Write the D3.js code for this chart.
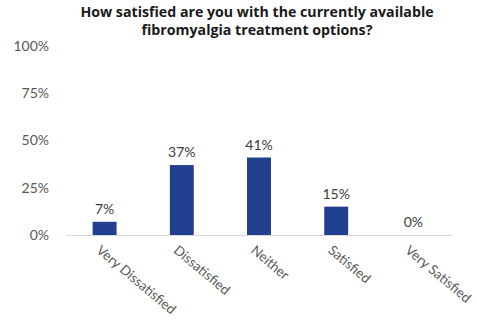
<!DOCTYPE html>
<html>
<head>
<meta charset="utf-8">
<script src="https://cdn.jsdelivr.net/npm/d3@7"></script>
<style>
  body { margin: 0; background: #fff; }
  svg { font-family: Lato, "Open Sans", sans-serif; }
</style>
</head>
<body>
<div id="chart"></div>
<script>
var categories = ["Very Dissatisfied", "Dissatisfied", "Neither", "Satisfied", "Very Satisfied"];
var values = [7, 37, 41, 15, 0];
var yTicks = [0, 25, 50, 75, 100];
var titleLines = ["How satisfied are you with the currently available", "fibromyalgia treatment options?"];

var width = 477, height = 322;
var svg = d3.select("#chart").append("svg")
    .attr("width", width)
    .attr("height", height);

var x = d3.scaleBand()
    .domain(categories)
    .range([66, 452])
    .paddingInner(0.69)
    .paddingOuter(0.345);

var y = d3.scaleLinear()
    .domain([0, 100])
    .range([235, 46]);

// title
svg.selectAll("text.title")
    .data(titleLines)
    .enter()
    .append("text")
    .attr("class", "title")
    .attr("x", 257)
    .attr("y", function (d, i) { return 17 + i * 18; })
    .attr("text-anchor", "middle")
    .style("font-family", "'Open Sans', sans-serif")
    .style("font-size", "14.2px")
    .style("font-weight", "bold")
    .style("fill", "#1a1a1a")
    .text(function (d) { return d; });

// y axis labels (no line)
var yAxis = d3.axisLeft(y)
    .tickValues(yTicks)
    .tickSize(0)
    .tickPadding(0)
    .tickFormat(function (d) { return d + "%"; });

var gy = svg.append("g")
    .attr("transform", "translate(49,0)")
    .call(yAxis);
gy.select(".domain").remove();
gy.selectAll("text")
    .style("font-family", "Lato, 'Open Sans', sans-serif")
    .style("font-size", "14px")
    .style("fill", "#595959");

// bars
svg.selectAll("rect.bar")
    .data(values)
    .enter()
    .append("rect")
    .attr("class", "bar")
    .attr("x", function (d, i) { return x(categories[i]); })
    .attr("y", function (d) { return y(d); })
    .attr("width", x.bandwidth())
    .attr("height", function (d) { return y(0) - y(d); })
    .style("fill", "#203f8f");

// value labels
svg.selectAll("text.value")
    .data(values)
    .enter()
    .append("text")
    .attr("class", "value")
    .attr("x", function (d, i) { return x(categories[i]) + x.bandwidth() / 2; })
    .attr("y", function (d) { return y(d) - 8; })
    .attr("text-anchor", "middle")
    .style("font-size", "14px")
    .style("fill", "#404040")
    .text(function (d) { return d + "%"; });

// x axis
var xAxis = d3.axisBottom(x).tickSize(0).tickPadding(0);
var gx = svg.append("g")
    .attr("transform", "translate(0," + y(0) + ")")
    .call(xAxis);
gx.select(".domain")
    .attr("d", "M66,0.5H452")
    .style("stroke", "#d9d9d9");
gx.selectAll("text")
    .style("font-family", "Lato, 'Open Sans', sans-serif")
    .style("font-size", "13.5px")
    .style("fill", "#595959")
    .attr("text-anchor", "start")
    .attr("dy", "0.35em")
    .attr("transform", "translate(-6,13) rotate(40)");
</script>
</body>
</html>
